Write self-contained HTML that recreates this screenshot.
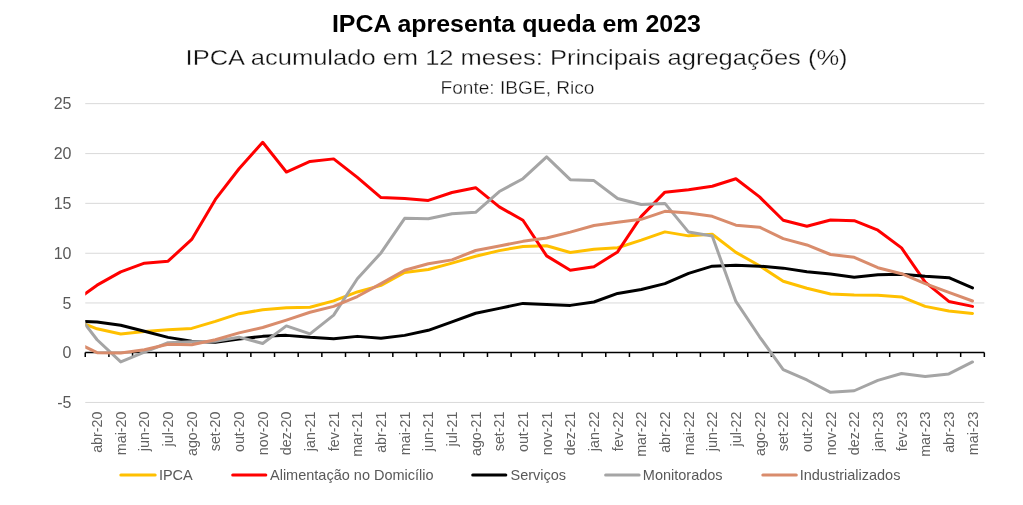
<!DOCTYPE html>
<html><head><meta charset="utf-8"><style>
html,body{margin:0;padding:0;background:#fff;}
body{width:1023px;height:505px;overflow:hidden;font-family:"Liberation Sans",sans-serif;}
svg{display:block;will-change:transform;}
</style></head><body>
<svg width="1023" height="505" viewBox="0 0 1023 505">
<defs><clipPath id="pa"><rect x="85.25" y="90" width="899.1" height="320"/></clipPath></defs>
<text x="516.4" y="31.7" text-anchor="middle" font-family="Liberation Sans, sans-serif" font-weight="bold" font-size="24" fill="#000" textLength="369" lengthAdjust="spacingAndGlyphs">IPCA apresenta queda em 2023</text>
<text x="516.6" y="65.3" text-anchor="middle" font-family="Liberation Sans, sans-serif" font-size="22.5" fill="#111" stroke="#fff" stroke-width="0.3" textLength="662" lengthAdjust="spacingAndGlyphs">IPCA acumulado em 12 meses: Principais agregações (%)</text>
<text x="517.5" y="93.7" text-anchor="middle" font-family="Liberation Sans, sans-serif" font-size="19" fill="#111" stroke="#fff" stroke-width="0.3" textLength="154" lengthAdjust="spacingAndGlyphs">Fonte: IBGE, Rico</text>
<line x1="85.25" x2="984.35" y1="103.65" y2="103.65" stroke="#D9D9D9" stroke-width="1"/>
<line x1="85.25" x2="984.35" y1="153.60" y2="153.60" stroke="#D9D9D9" stroke-width="1"/>
<line x1="85.25" x2="984.35" y1="203.35" y2="203.35" stroke="#D9D9D9" stroke-width="1"/>
<line x1="85.25" x2="984.35" y1="253.25" y2="253.25" stroke="#D9D9D9" stroke-width="1"/>
<line x1="85.25" x2="984.35" y1="302.95" y2="302.95" stroke="#D9D9D9" stroke-width="1"/>
<line x1="85.25" x2="984.35" y1="402.45" y2="402.45" stroke="#D9D9D9" stroke-width="1"/>
<text x="71.5" y="109.30" text-anchor="end" font-family="Liberation Sans, sans-serif" font-size="16" fill="#595959">25</text>
<text x="71.5" y="159.10" text-anchor="end" font-family="Liberation Sans, sans-serif" font-size="16" fill="#595959">20</text>
<text x="71.5" y="208.90" text-anchor="end" font-family="Liberation Sans, sans-serif" font-size="16" fill="#595959">15</text>
<text x="71.5" y="258.70" text-anchor="end" font-family="Liberation Sans, sans-serif" font-size="16" fill="#595959">10</text>
<text x="71.5" y="308.50" text-anchor="end" font-family="Liberation Sans, sans-serif" font-size="16" fill="#595959">5</text>
<text x="71.5" y="358.30" text-anchor="end" font-family="Liberation Sans, sans-serif" font-size="16" fill="#595959">0</text>
<text x="71.5" y="408.10" text-anchor="end" font-family="Liberation Sans, sans-serif" font-size="16" fill="#595959">-5</text>
<line x1="85.25" x2="984.35" y1="352.5" y2="352.5" stroke="#000" stroke-width="1.5"/>
<path d="M85.25,352.5 V357 M108.91,352.5 V357 M132.57,352.5 V357 M156.23,352.5 V357 M179.89,352.5 V357 M203.55,352.5 V357 M227.21,352.5 V357 M250.87,352.5 V357 M274.53,352.5 V357 M298.19,352.5 V357 M321.85,352.5 V357 M345.51,352.5 V357 M369.17,352.5 V357 M392.83,352.5 V357 M416.49,352.5 V357 M440.15,352.5 V357 M463.81,352.5 V357 M487.47,352.5 V357 M511.13,352.5 V357 M534.79,352.5 V357 M558.45,352.5 V357 M582.11,352.5 V357 M605.77,352.5 V357 M629.43,352.5 V357 M653.09,352.5 V357 M676.75,352.5 V357 M700.41,352.5 V357 M724.07,352.5 V357 M747.73,352.5 V357 M771.39,352.5 V357 M795.05,352.5 V357 M818.71,352.5 V357 M842.37,352.5 V357 M866.03,352.5 V357 M889.69,352.5 V357 M913.35,352.5 V357 M937.01,352.5 V357 M960.67,352.5 V357 M984.33,352.5 V357" stroke="#000" stroke-width="1.5" fill="none"/>
<text transform="translate(102.08,411.5) rotate(-90)" text-anchor="end" font-family="Liberation Sans, sans-serif" font-size="14.3" fill="#626262">abr-20</text>
<text transform="translate(125.74,411.5) rotate(-90)" text-anchor="end" font-family="Liberation Sans, sans-serif" font-size="14.3" fill="#626262">mai-20</text>
<text transform="translate(149.40,411.5) rotate(-90)" text-anchor="end" font-family="Liberation Sans, sans-serif" font-size="14.3" fill="#626262">jun-20</text>
<text transform="translate(173.06,411.5) rotate(-90)" text-anchor="end" font-family="Liberation Sans, sans-serif" font-size="14.3" fill="#626262">jul-20</text>
<text transform="translate(196.72,411.5) rotate(-90)" text-anchor="end" font-family="Liberation Sans, sans-serif" font-size="14.3" fill="#626262">ago-20</text>
<text transform="translate(220.38,411.5) rotate(-90)" text-anchor="end" font-family="Liberation Sans, sans-serif" font-size="14.3" fill="#626262">set-20</text>
<text transform="translate(244.04,411.5) rotate(-90)" text-anchor="end" font-family="Liberation Sans, sans-serif" font-size="14.3" fill="#626262">out-20</text>
<text transform="translate(267.70,411.5) rotate(-90)" text-anchor="end" font-family="Liberation Sans, sans-serif" font-size="14.3" fill="#626262">nov-20</text>
<text transform="translate(291.36,411.5) rotate(-90)" text-anchor="end" font-family="Liberation Sans, sans-serif" font-size="14.3" fill="#626262">dez-20</text>
<text transform="translate(315.02,411.5) rotate(-90)" text-anchor="end" font-family="Liberation Sans, sans-serif" font-size="14.3" fill="#626262">jan-21</text>
<text transform="translate(338.68,411.5) rotate(-90)" text-anchor="end" font-family="Liberation Sans, sans-serif" font-size="14.3" fill="#626262">fev-21</text>
<text transform="translate(362.34,411.5) rotate(-90)" text-anchor="end" font-family="Liberation Sans, sans-serif" font-size="14.3" fill="#626262">mar-21</text>
<text transform="translate(386.00,411.5) rotate(-90)" text-anchor="end" font-family="Liberation Sans, sans-serif" font-size="14.3" fill="#626262">abr-21</text>
<text transform="translate(409.66,411.5) rotate(-90)" text-anchor="end" font-family="Liberation Sans, sans-serif" font-size="14.3" fill="#626262">mai-21</text>
<text transform="translate(433.32,411.5) rotate(-90)" text-anchor="end" font-family="Liberation Sans, sans-serif" font-size="14.3" fill="#626262">jun-21</text>
<text transform="translate(456.98,411.5) rotate(-90)" text-anchor="end" font-family="Liberation Sans, sans-serif" font-size="14.3" fill="#626262">jul-21</text>
<text transform="translate(480.64,411.5) rotate(-90)" text-anchor="end" font-family="Liberation Sans, sans-serif" font-size="14.3" fill="#626262">ago-21</text>
<text transform="translate(504.30,411.5) rotate(-90)" text-anchor="end" font-family="Liberation Sans, sans-serif" font-size="14.3" fill="#626262">set-21</text>
<text transform="translate(527.96,411.5) rotate(-90)" text-anchor="end" font-family="Liberation Sans, sans-serif" font-size="14.3" fill="#626262">out-21</text>
<text transform="translate(551.62,411.5) rotate(-90)" text-anchor="end" font-family="Liberation Sans, sans-serif" font-size="14.3" fill="#626262">nov-21</text>
<text transform="translate(575.28,411.5) rotate(-90)" text-anchor="end" font-family="Liberation Sans, sans-serif" font-size="14.3" fill="#626262">dez-21</text>
<text transform="translate(598.94,411.5) rotate(-90)" text-anchor="end" font-family="Liberation Sans, sans-serif" font-size="14.3" fill="#626262">jan-22</text>
<text transform="translate(622.60,411.5) rotate(-90)" text-anchor="end" font-family="Liberation Sans, sans-serif" font-size="14.3" fill="#626262">fev-22</text>
<text transform="translate(646.26,411.5) rotate(-90)" text-anchor="end" font-family="Liberation Sans, sans-serif" font-size="14.3" fill="#626262">mar-22</text>
<text transform="translate(669.92,411.5) rotate(-90)" text-anchor="end" font-family="Liberation Sans, sans-serif" font-size="14.3" fill="#626262">abr-22</text>
<text transform="translate(693.58,411.5) rotate(-90)" text-anchor="end" font-family="Liberation Sans, sans-serif" font-size="14.3" fill="#626262">mai-22</text>
<text transform="translate(717.24,411.5) rotate(-90)" text-anchor="end" font-family="Liberation Sans, sans-serif" font-size="14.3" fill="#626262">jun-22</text>
<text transform="translate(740.90,411.5) rotate(-90)" text-anchor="end" font-family="Liberation Sans, sans-serif" font-size="14.3" fill="#626262">jul-22</text>
<text transform="translate(764.56,411.5) rotate(-90)" text-anchor="end" font-family="Liberation Sans, sans-serif" font-size="14.3" fill="#626262">ago-22</text>
<text transform="translate(788.22,411.5) rotate(-90)" text-anchor="end" font-family="Liberation Sans, sans-serif" font-size="14.3" fill="#626262">set-22</text>
<text transform="translate(811.88,411.5) rotate(-90)" text-anchor="end" font-family="Liberation Sans, sans-serif" font-size="14.3" fill="#626262">out-22</text>
<text transform="translate(835.54,411.5) rotate(-90)" text-anchor="end" font-family="Liberation Sans, sans-serif" font-size="14.3" fill="#626262">nov-22</text>
<text transform="translate(859.20,411.5) rotate(-90)" text-anchor="end" font-family="Liberation Sans, sans-serif" font-size="14.3" fill="#626262">dez-22</text>
<text transform="translate(882.86,411.5) rotate(-90)" text-anchor="end" font-family="Liberation Sans, sans-serif" font-size="14.3" fill="#626262">jan-23</text>
<text transform="translate(906.52,411.5) rotate(-90)" text-anchor="end" font-family="Liberation Sans, sans-serif" font-size="14.3" fill="#626262">fev-23</text>
<text transform="translate(930.18,411.5) rotate(-90)" text-anchor="end" font-family="Liberation Sans, sans-serif" font-size="14.3" fill="#626262">mar-23</text>
<text transform="translate(953.84,411.5) rotate(-90)" text-anchor="end" font-family="Liberation Sans, sans-serif" font-size="14.3" fill="#626262">abr-23</text>
<text transform="translate(977.50,411.5) rotate(-90)" text-anchor="end" font-family="Liberation Sans, sans-serif" font-size="14.3" fill="#626262">mai-23</text>
<g clip-path="url(#pa)" fill="none" stroke-width="3" stroke-linejoin="round" stroke-linecap="round">
<path d="M73.42,319.83 L97.08,328.80 L120.74,333.98 L144.40,331.49 L168.06,329.69 L191.72,328.40 L215.38,321.43 L239.04,313.66 L262.70,309.77 L286.36,307.68 L310.02,307.28 L333.68,300.91 L357.34,291.94 L381.00,285.37 L404.66,272.42 L428.32,269.53 L451.98,263.16 L475.64,256.29 L499.30,250.61 L522.96,246.43 L546.62,245.73 L570.28,252.50 L593.94,249.32 L617.60,247.72 L641.26,240.15 L664.92,231.89 L688.58,235.87 L712.24,234.28 L735.90,252.40 L759.56,265.75 L783.22,281.29 L806.88,288.26 L830.54,293.94 L854.20,295.03 L877.86,295.23 L901.52,296.92 L925.18,306.39 L948.84,311.07 L972.50,313.46" stroke="#FFC000"/>
<path d="M73.42,302.10 L97.08,285.17 L120.74,271.82 L144.40,263.16 L168.06,261.17 L191.72,239.45 L215.38,199.42 L239.04,168.74 L262.70,142.25 L286.36,172.03 L310.02,161.47 L333.68,158.88 L357.34,177.40 L381.00,197.52 L404.66,198.52 L428.32,200.41 L451.98,192.54 L475.64,187.66 L499.30,206.89 L522.96,220.23 L546.62,255.89 L570.28,270.23 L593.94,266.75 L617.60,251.90 L641.26,216.35 L664.92,192.14 L688.58,189.65 L712.24,186.27 L735.90,178.70 L759.56,196.93 L783.22,220.23 L806.88,226.21 L830.54,219.93 L854.20,220.63 L877.86,230.19 L901.52,247.92 L925.18,282.18 L948.84,301.41 L972.50,306.39" stroke="#FF0000"/>
<path d="M73.42,321.23 L97.08,322.02 L120.74,325.31 L144.40,331.29 L168.06,337.36 L191.72,341.35 L215.38,342.24 L239.04,339.05 L262.70,336.37 L286.36,335.37 L310.02,337.36 L333.68,338.76 L357.34,336.37 L381.00,338.36 L404.66,335.37 L428.32,330.29 L451.98,321.82 L475.64,313.26 L499.30,308.38 L522.96,303.40 L546.62,304.39 L570.28,305.39 L593.94,302.00 L617.60,293.44 L641.26,289.55 L664.92,283.58 L688.58,273.32 L712.24,266.15 L735.90,265.15 L759.56,266.15 L783.22,268.14 L806.88,271.82 L830.54,274.02 L854.20,277.30 L877.86,274.71 L901.52,274.31 L925.18,276.31 L948.84,277.70 L972.50,287.96" stroke="#000000"/>
<path d="M73.42,308.98 L97.08,339.75 L120.74,361.96 L144.40,352.10 L168.06,342.74 L191.72,341.74 L215.38,341.15 L239.04,337.16 L262.70,343.44 L286.36,325.91 L310.02,333.88 L333.68,315.15 L357.34,278.70 L381.00,252.90 L404.66,218.34 L428.32,218.74 L451.98,213.76 L475.64,212.36 L499.30,191.55 L522.96,178.70 L546.62,156.89 L570.28,179.69 L593.94,180.59 L617.60,198.52 L641.26,204.50 L664.92,203.40 L688.58,232.08 L712.24,236.07 L735.90,301.41 L759.56,336.76 L783.22,369.53 L806.88,379.99 L830.54,392.34 L854.20,390.75 L877.86,380.39 L901.52,373.52 L925.18,376.40 L948.84,373.91 L972.50,361.96" stroke="#A5A5A5"/>
<path d="M73.42,341.05 L97.08,352.70 L120.74,352.90 L144.40,349.71 L168.06,344.23 L191.72,344.83 L215.38,339.75 L239.04,332.88 L262.70,327.50 L286.36,320.13 L310.02,312.26 L333.68,306.39 L357.34,296.53 L381.00,283.58 L404.66,270.23 L428.32,263.76 L451.98,259.87 L475.64,250.51 L499.30,245.93 L522.96,241.35 L546.62,238.06 L570.28,232.08 L593.94,225.51 L617.60,222.22 L641.26,219.34 L664.92,211.37 L688.58,212.96 L712.24,216.35 L735.90,225.21 L759.56,227.20 L783.22,238.66 L806.88,244.93 L830.54,254.49 L854.20,257.28 L877.86,267.74 L901.52,273.72 L925.18,283.58 L948.84,292.44 L972.50,301.01" stroke="#D98C6C"/>
</g>
<line x1="120.8" x2="155.2" y1="474.95" y2="474.95" stroke="#FFC000" stroke-width="3" stroke-linecap="round"/>
<text x="158.9" y="480" font-family="Liberation Sans, sans-serif" font-size="14.5" fill="#595959">IPCA</text>
<line x1="232.7" x2="265.8" y1="474.95" y2="474.95" stroke="#FF0000" stroke-width="3" stroke-linecap="round"/>
<text x="270.0" y="480" font-family="Liberation Sans, sans-serif" font-size="14.5" fill="#595959">Alimentação no Domicílio</text>
<line x1="472.7" x2="505.8" y1="474.95" y2="474.95" stroke="#000000" stroke-width="3" stroke-linecap="round"/>
<text x="510.5" y="480" font-family="Liberation Sans, sans-serif" font-size="14.5" fill="#595959">Serviços</text>
<line x1="605.6" x2="639.1" y1="474.95" y2="474.95" stroke="#A5A5A5" stroke-width="3" stroke-linecap="round"/>
<text x="642.8" y="480" font-family="Liberation Sans, sans-serif" font-size="14.5" fill="#595959">Monitorados</text>
<line x1="762.8" x2="796.3" y1="474.95" y2="474.95" stroke="#D98C6C" stroke-width="3" stroke-linecap="round"/>
<text x="799.7" y="480" font-family="Liberation Sans, sans-serif" font-size="14.5" fill="#595959">Industrializados</text>
</svg>
</body></html>
